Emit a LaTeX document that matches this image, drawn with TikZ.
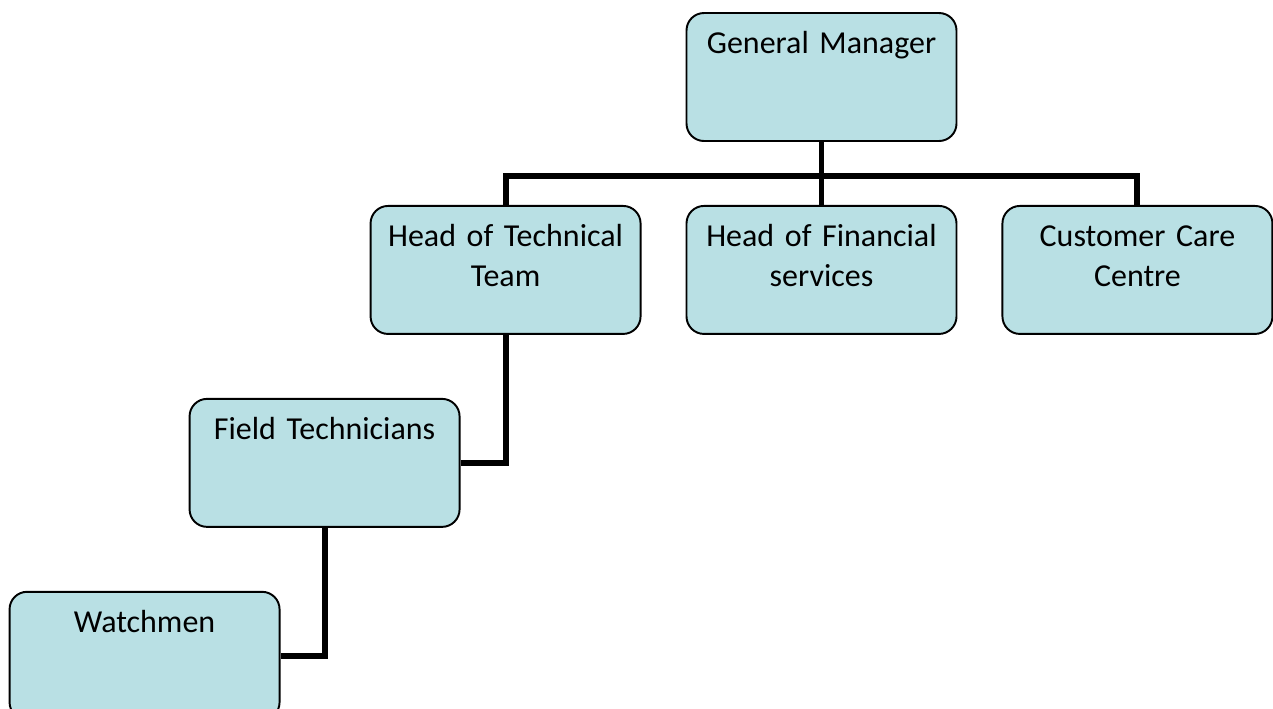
\documentclass[tikz,border=0pt]{standalone}
\usepackage{fontspec}
\setmainfont{Carlito}[WordSpace=0.65]
\usetikzlibrary{
    positioning,
    calc
}
\definecolor{UnitTeal}{RGB}{185,224,228}
\tikzset{
  unit/.style = {draw, line width=1.1pt, rounded corners=0.35cm, fill=UnitTeal,
                 minimum width=5.4cm, minimum height=2.56cm, inner sep=0pt,
                 text width=5.3cm, align=center, text height=0.81cm, text depth=1.75cm,
                 font=\fontsize{18.2}{22.7}\selectfont},
  link/.style = {line width=3.4pt, black}
}

\begin{document}
\begin{tikzpicture}[node distance=1.26cm and 0.88cm]
\useasboundingbox (0,0) rectangle (25.46,-14.16);
\node[unit] (gm) at (16.43,-1.54) {General Manager};
\node[unit, below=of gm] (hfs) {Head of Financial\\services};
\node[unit, left=of hfs] (htt) {Head of Technical\\Team};
\node[unit, right=of hfs] (ccc) {Customer Care\\Centre};
\node[unit, below=of htt, xshift=-3.62cm] (ft) {Field Technicians};
\node[unit, below=of ft, xshift=-3.6cm] (wm) {Watchmen};

\coordinate[below=0.68cm of gm.south] (bus);
\draw[link] (gm.south) -- (hfs.north);
\draw[link] (htt.north) |- (bus) -| (ccc.north);
\draw[link] (htt.south) |- (ft.east);
\draw[link] (ft.south) |- (wm.east);
\end{tikzpicture}
\end{document}
